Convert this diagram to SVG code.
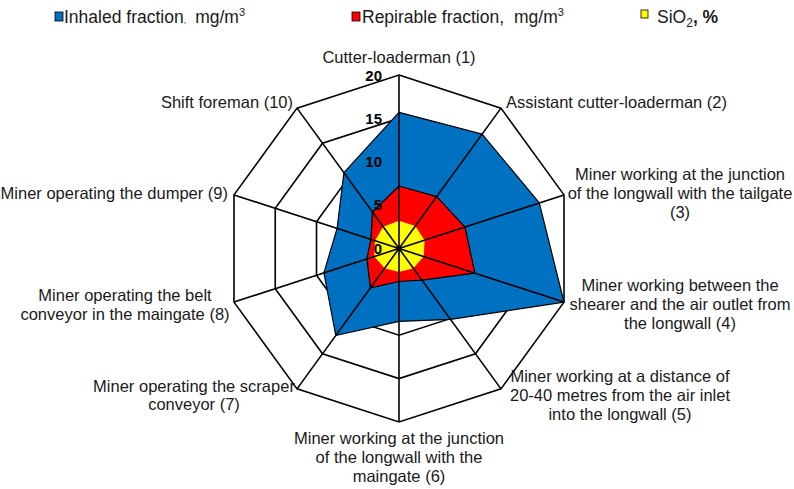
<svg xmlns="http://www.w3.org/2000/svg" width="794" height="489" viewBox="0 0 794 489">
<style>
text{font-family:"Liberation Sans",Arial,sans-serif;font-size:16.5px;fill:#1a1a1a}
.leg{font-size:17.5px}
.tick{font-weight:bold;font-size:15px;text-anchor:end;fill:#000}
.ring{fill:none;stroke:#000;stroke-width:1.6;stroke-linejoin:miter}
.spoke{stroke:#000;stroke-width:1.6}
.ser{stroke:#000;stroke-width:1.2;stroke-linejoin:round}
.mid{text-anchor:middle}
.end{text-anchor:end}
.sw{stroke:#000;stroke-width:0.8}
</style>
<rect width="794" height="489" fill="#fff"/>
<g id="legend">
<rect class="sw" x="55" y="12" width="8" height="9" fill="#0070C0"/>
<text class="leg" x="64" y="23">Inhaled fraction<tspan font-size="9">,</tspan><tspan dx="9">mg/m</tspan><tspan font-size="11" dy="-7">3</tspan></text>
<rect class="sw" x="352" y="12" width="8" height="9" fill="#FF0000"/>
<text class="leg" x="362" y="23">Repirable fraction,<tspan dx="10">mg/m</tspan><tspan font-size="11" dy="-7">3</tspan></text>
<rect class="sw" x="641" y="10" width="7" height="8" fill="#FFFF00"/>
<text class="leg" x="657" y="23">SiO<tspan font-size="12" dy="4">2</tspan><tspan dy="-4" font-weight="bold">, %</tspan></text>
</g>
<g id="grid">
<polygon class="ring" points="399,205.13 424.5,213.41 440.25,235.1 440.25,261.9 424.5,283.59 399,291.88 373.5,283.59 357.75,261.9 357.75,235.1 373.5,213.41"/>
<polygon class="ring" points="399,161.75 449.99,178.32 481.5,221.69 481.5,275.31 449.99,318.68 399,335.25 348.01,318.68 316.5,275.31 316.5,221.69 348.01,178.32"/>
<polygon class="ring" points="399,118.38 475.49,143.23 522.76,208.29 522.76,288.71 475.49,353.77 399,378.63 322.51,353.77 275.24,288.71 275.24,208.29 322.51,143.23"/>
<polygon class="ring" points="399,75 500.98,108.13 564.01,194.89 564.01,302.11 500.98,388.87 399,422 297.02,388.87 233.99,302.11 233.99,194.89 297.02,108.13"/>
</g>
<g id="series">
<polygon id="inhaled" class="ser" fill="#0070C0" points="399,112.3 482.1,134.1 539.3,202.9 564,302.1 450.5,319.4 399,321.4 335.8,335.5 323.9,272.9 337.1,228.4 343.9,172.7"/>
<polygon id="respirable" class="ser" fill="#FF0000" points="399,186 436.7,196.6 465,227.1 474.9,273.2 421.9,280.1 399,281.5 370.4,287.8 366.9,258.9 370.9,239.4 372.5,212"/>
<polygon id="sio2" fill="#FFFF00" stroke="none" points="399,220.7 415.3,226 424.6,240.2 423.7,256.5 413.3,268.2 399,271.9 384.7,268.2 374.3,256.5 375,240.7 383.2,226.7"/>
</g>
<g id="connectors">
<line class="spoke" x1="399" y1="248.5" x2="399" y2="75"/>
<line class="spoke" x1="399" y1="248.5" x2="500.98" y2="108.13"/>
<line class="spoke" x1="399" y1="248.5" x2="564.01" y2="194.89"/>
<line class="spoke" x1="399" y1="248.5" x2="564.01" y2="302.11"/>
<line class="spoke" x1="399" y1="248.5" x2="500.98" y2="388.87"/>
<line class="spoke" x1="399" y1="248.5" x2="399" y2="422"/>
<line class="spoke" x1="399" y1="248.5" x2="297.02" y2="388.87"/>
<line class="spoke" x1="399" y1="248.5" x2="233.99" y2="302.11"/>
<line class="spoke" x1="399" y1="248.5" x2="233.99" y2="194.89"/>
<line class="spoke" x1="399" y1="248.5" x2="297.02" y2="108.13"/>
<circle cx="399" cy="248.5" r="2.8" fill="#000"/>
</g>
<g id="ticks">
<text class="tick" x="382" y="81">20</text>
<text class="tick" x="382" y="124">15</text>
<text class="tick" x="382" y="167">10</text>
<text class="tick" x="382" y="210">5</text>
<text class="tick" x="382" y="254">0</text>
</g>
<g id="n1"><text class="mid" x="399" y="63">Cutter-loaderman (1)</text></g>
<g id="n2"><text x="506" y="108">Assistant cutter-loaderman (2)</text></g>
<g id="n3"><text class="mid" x="680" y="180">Miner working at the junction<tspan x="680" dy="19">of the longwall with the tailgate</tspan><tspan x="680" dy="19">(3)</tspan></text></g>
<g id="n4"><text class="mid" x="680" y="291">Miner working between the<tspan x="680" dy="19">shearer and the air outlet from</tspan><tspan x="680" dy="19">the longwall (4)</tspan></text></g>
<g id="n5"><text class="mid" x="620" y="382">Miner working at a distance of<tspan x="620" dy="19">20-40 metres from the air inlet</tspan><tspan x="620" dy="19">into the longwall (5)</tspan></text></g>
<g id="n6"><text class="mid" x="399" y="444">Miner working at the junction<tspan x="399" dy="19">of the longwall with the</tspan><tspan x="399" dy="19">maingate (6)</tspan></text></g>
<g id="n7"><text class="mid" x="194" y="391.5">Miner operating the scraper<tspan x="194" dy="18.5">conveyor (7)</tspan></text></g>
<g id="n8"><text class="mid" x="125" y="301">Miner operating the belt<tspan x="125" dy="18.5">conveyor in the maingate (8)</tspan></text></g>
<g id="n9"><text class="end" x="228" y="199">Miner operating the dumper (9)</text></g>
<g id="n10"><text class="end" x="293" y="108">Shift foreman (10)</text></g>
</svg>
